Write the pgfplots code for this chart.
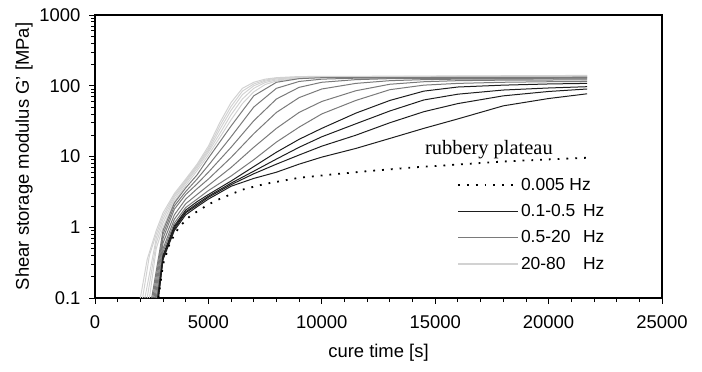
\documentclass[border=0pt]{standalone}
\usepackage{pgfplots}
\pgfplotsset{compat=1.18}
\usepackage{fontspec}
\setmainfont{Liberation Sans}
\newfontfamily\rubserif{Liberation Serif}
\definecolor{cblack}{HTML}{1E1E1E}
\definecolor{cgray}{HTML}{7A7A7A}
\definecolor{clight}{HTML}{D2D2D2}
\begin{document}
\begin{tikzpicture}[x=1bp,y=1bp]
\useasboundingbox (0,0) rectangle (702,371);
\begin{axis}[
  at={(95bp,73bp)}, anchor=south west,
  scale only axis, width=567bp, height=283bp,
  ymode=log, xmin=0, xmax=25000, ymin=0.1, ymax=1000,
  scaled x ticks=false,
  xtick={0,5000,10000,15000,20000,25000},
  xticklabels={0,5000,10000,15000,20000,25000},
  minor x tick num=4,
  ytick={0.1,1,10,100,1000},
  yticklabels={0.1,1,10,100,1000},
  tick align=outside, xtick pos=bottom, ytick pos=left,
  major tick length=6bp, minor tick length=4bp,
  axis line style={line width=1.2bp},
  every tick/.style={black, line width=1bp},
  every minor tick/.style={black, line width=0.8bp},
  tick label style={font=\fontsize{18.5}{20}\selectfont},
  xticklabel style={yshift=-8bp},
  yticklabel style={xshift=-5bp},
  label style={font=\fontsize{18.5}{20}\selectfont},
  xlabel={cure time [s]},
  ylabel={Shear storage modulus G' [MPa]},
  xlabel style={yshift=-9bp},
  ylabel style={yshift=0bp},
  legend style={draw=none, fill=none, at={(0.6385,0.43)}, anchor=north west,
    font=\fontsize{17.5}{19}\selectfont, inner sep=0pt, row sep=8.5bp},
  legend cell align=left,
  legend image code/.code={\draw[#1] (0bp,0bp) -- (60bp,0bp);},
]
% 20-80 Hz
\addplot[clight, line width=1bp, forget plot] coordinates {(2400,0.1)(2700,0.5)(3000,1.0)(3500,2.3)(4000,3.9)(4500,6.3)(5000,10.5)(5500,18.5)(6000,33)(6500,56)(7000,82)(7500,104)(8000,117)(9000,127)(10000,131)(12000,133)(21700,134)};
\addplot[clight, line width=1bp, forget plot] coordinates {(2300,0.1)(2700,0.6)(3000,1.15)(3500,2.5)(4000,4.2)(4500,6.8)(5000,11.5)(5500,21)(6000,39)(6500,65)(7000,92)(7500,111)(8000,121)(9000,129)(10000,132)(21700,136)};
\addplot[clight, line width=1bp, forget plot] coordinates {(2200,0.1)(2700,0.7)(3000,1.3)(3500,2.7)(4000,4.4)(4500,7.2)(5000,12.2)(5500,24)(6000,45)(6500,75)(7000,100)(7500,116)(8000,125)(9000,131)(21700,137)};
\addplot[clight, line width=1bp, forget plot] coordinates {(2100,0.1)(2400,0.4)(2700,0.8)(3000,1.45)(3500,2.85)(4000,4.6)(4500,7.5)(5000,13)(5500,27)(6000,51)(6500,84)(7000,106)(7500,120)(8000,128)(9000,133)(21700,139)};
\addplot[clight, line width=1bp, forget plot] coordinates {(2000,0.1)(2300,0.35)(2700,0.9)(3000,1.6)(3500,3.0)(4000,4.8)(4500,7.8)(5000,14)(5500,30)(6000,58)(6500,92)(7000,112)(7500,124)(8000,130)(9000,135)(21700,140)};
% 0.5-20 Hz
\addplot[cgray, line width=1bp, forget plot] coordinates {(2730,0.1)(3000,0.45)(3500,1.15)(4000,1.9)(4500,2.5)(5000,3.3)(6000,5.3)(7000,9.0)(8000,16)(9000,26)(10000,40)(11500,62)(13000,88)(14500,102)(16000,108)(18000,112)(20000,114)(21700,115)};
\addplot[cgray, line width=1bp, forget plot] coordinates {(2700,0.1)(3000,0.5)(3500,1.3)(4000,2.15)(4500,2.9)(5000,3.9)(6000,7.0)(7000,13.5)(8000,25)(9000,42)(10000,60)(11500,85)(13000,105)(14500,114)(16000,118)(18000,120)(21700,121)};
\addplot[cgray, line width=1bp, forget plot] coordinates {(2650,0.1)(3000,0.6)(3500,1.5)(4000,2.5)(4500,3.5)(5000,4.8)(6000,9.7)(7000,21)(8000,42)(9000,68)(10000,90)(11500,108)(13000,118)(14500,122)(16000,124)(21700,125)};
\addplot[cgray, line width=1bp, forget plot] coordinates {(2600,0.1)(3000,0.7)(3500,1.8)(4000,2.9)(4500,4.1)(5000,6.0)(6000,13.5)(7000,32)(8000,65)(9000,95)(10000,112)(11500,122)(13000,126)(21700,128)};
\addplot[cgray, line width=1bp, forget plot] coordinates {(2550,0.1)(3000,0.8)(3500,2.0)(4000,3.2)(4500,4.8)(5000,7.5)(6000,19)(7000,50)(8000,92)(9000,115)(10000,124)(11500,128)(21700,130)};
\addplot[cgray, line width=1bp, forget plot] coordinates {(2500,0.1)(3000,0.9)(3500,2.2)(4000,3.6)(4500,5.5)(5000,9.5)(6000,27)(7000,72)(8000,112)(9000,126)(10000,130)(21700,132)};
% 0.1-0.5 Hz
\addplot[cblack, line width=1bp, forget plot] coordinates {(2800,0.1)(3000,0.35)(3500,0.9)(4000,1.5)(4500,1.95)(5000,2.5)(6000,3.8)(7000,4.9)(8000,6.0)(9000,7.8)(10000,9.8)(11500,13)(13000,18)(14500,25)(16000,34)(18000,52)(20000,66)(21700,77)};
\addplot[cblack, line width=1bp, forget plot] coordinates {(2790,0.1)(3000,0.37)(3500,0.95)(4000,1.6)(4500,2.05)(5000,2.65)(6000,4.0)(7000,5.7)(8000,7.8)(9000,10.5)(10000,14)(11500,20)(13000,30)(14500,43)(16000,56)(18000,72)(20000,83)(21700,90)};
\addplot[cblack, line width=1bp, forget plot] coordinates {(2780,0.1)(3000,0.38)(3500,1.0)(4000,1.65)(4500,2.15)(5000,2.75)(6000,4.2)(7000,6.2)(8000,9.2)(9000,13.5)(10000,19)(11500,29)(13000,44)(14500,63)(16000,76)(18000,87)(20000,93)(21700,97)};
\addplot[cblack, line width=1bp, forget plot] coordinates {(2760,0.1)(3000,0.4)(3500,1.05)(4000,1.75)(4500,2.3)(5000,2.9)(6000,4.5)(7000,7.2)(8000,11.5)(9000,17.5)(10000,25)(11500,41)(13000,62)(14500,84)(16000,96)(18000,102)(20000,106)(21700,108)};
% 0.005 Hz
\addplot[black, line width=1.8bp, dash pattern=on 1.8bp off 7bp, forget plot] coordinates {(2800,0.1)(3000,0.3)(3300,0.6)(3700,1.0)(4200,1.45)(5000,2.1)(5600,2.6)(6500,3.4)(7500,4.1)(9000,5.0)(10500,5.6)(12000,6.2)(14000,7.0)(16000,7.7)(18000,8.5)(20000,9.1)(21700,9.6)};
\addlegendimage{black, line width=1.8bp, dash pattern=on 1.8bp off 7bp}
\addlegendimage{cblack, line width=1.5bp}
\addlegendimage{cgray, line width=1.5bp}
\addlegendimage{clight, line width=1.5bp}
\legend{0.005 Hz, \makebox[62bp][l]{0.1-0.5}Hz, \makebox[62bp][l]{0.5-20}Hz, \makebox[62bp][l]{20-80}Hz}
\node[anchor=base west, font=\rubserif\fontsize{20.5}{22}\selectfont] at (axis cs:14400,10.8) {rubbery plateau};
\end{axis}
\end{tikzpicture}
\end{document}
